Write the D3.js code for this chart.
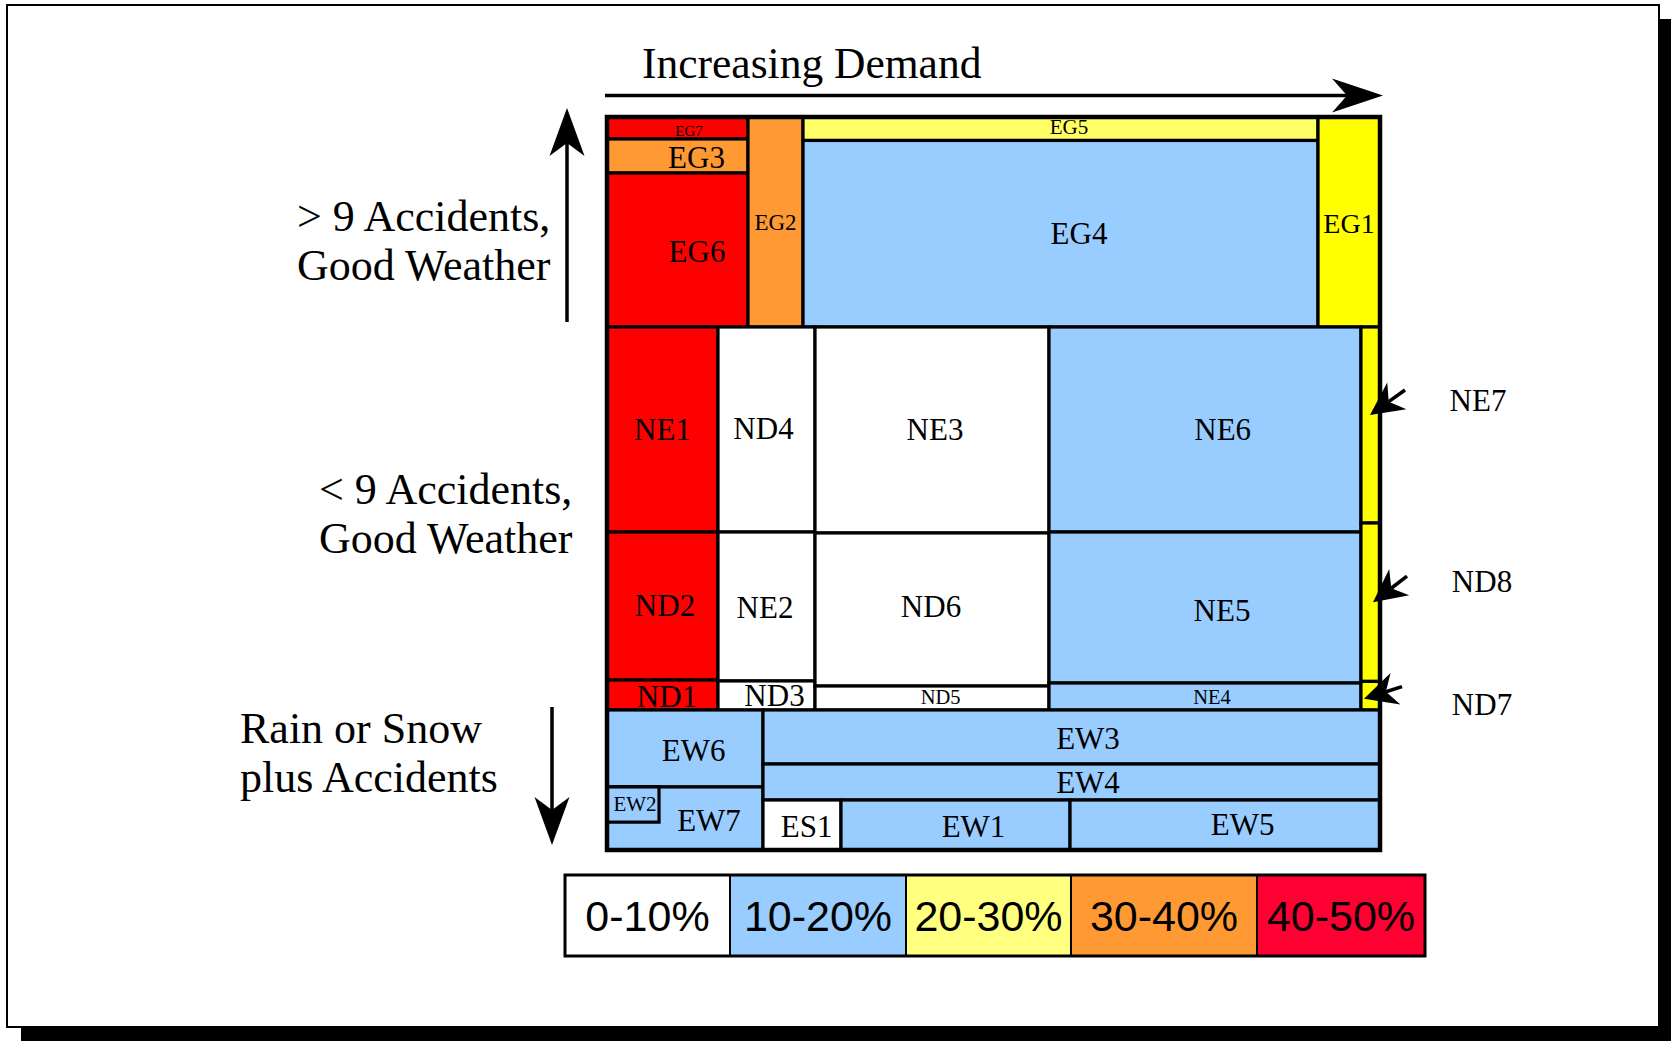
<!DOCTYPE html>
<html>
<head>
<meta charset="utf-8">
<script src="https://cdn.jsdelivr.net/npm/d3@7"></script>
<style>
  html, body { margin: 0; padding: 0; background: #ffffff; }
  svg { display: block; }
</style>
</head>
<body>
<div id="chart"></div>
<script>
// ---- data -------------------------------------------------------------
// Demand share (x, % of total) and condition share (y, % of total) for each cell
const axisTitle = "Increasing Demand";
const bandLabels = [
  ["> 9 Accidents,", "Good Weather"],
  ["< 9 Accidents,", "Good Weather"],
  ["Rain or Snow", "plus Accidents"]
];
const classLabels = ["0-10%", "10-20%", "20-30%", "30-40%", "40-50%"];

const cellIds = [
  "EG7", "EG3", "EG6", "EG2", "EG5", "EG4", "EG1",
  "NE1", "ND2", "ND1", "ND4", "NE2", "ND3", "NE3", "ND6", "ND5",
  "NE6", "NE5", "NE4", "NE7", "ND8", "ND7",
  "EW6", "EW7", "EW2", "EW3", "EW4", "ES1", "EW1", "EW5"
];
// index into classLabels
const cellClass = [
  4, 3, 4, 3, 2, 1, 2,
  4, 4, 4, 0, 0, 0, 0, 0, 0,
  1, 1, 1, 2, 2, 2,
  1, 1, 1, 1, 1, 0, 1, 1
];
const demandFrom = [
  0, 0, 0, 18.24, 25.36, 25.36, 91.98,
  0, 0, 0, 14.36, 14.36, 14.36, 26.91, 26.91, 26.91,
  57.18, 57.18, 57.18, 97.54, 97.54, 97.54,
  0, 0, 0, 20.18, 20.18, 20.18, 30.27, 59.9
];
const demandTo = [
  18.24, 18.24, 18.24, 25.36, 91.98, 91.98, 100,
  14.36, 14.36, 14.36, 26.91, 26.91, 26.91, 57.18, 57.18, 57.18,
  97.54, 97.54, 97.54, 100, 100, 100,
  20.18, 20.18, 6.73, 100, 100, 30.27, 59.9, 100
];
const conditionFrom = [
  0, 3.0, 7.64, 0, 0, 3.2, 0,
  28.65, 56.62, 76.81, 28.65, 56.62, 76.94, 28.65, 56.75, 77.63,
  28.65, 56.62, 77.22, 28.65, 55.39, 77.0,
  80.9, 91.4, 91.4, 80.9, 88.27, 93.18, 93.18, 93.18
];
const conditionTo = [
  3.0, 7.64, 28.65, 28.65, 3.2, 28.65, 28.65,
  56.62, 76.81, 80.9, 56.62, 76.94, 80.9, 56.75, 77.63, 80.9,
  56.62, 77.22, 80.9, 55.39, 77.0, 80.9,
  91.4, 100, 96.2, 88.27, 93.18, 100, 100, 100
];

// ---- styles & layout --------------------------------------------------
const W = 1671, H = 1041;
const serif = "'Liberation Serif', 'Times New Roman', Times, serif";
const sans = "'Liberation Sans', Arial, Helvetica, sans-serif";
const classFill = ["#ffffff", "#99ccff", "#ffff00", "#ff9933", "#ff0000"];
const legendFill = ["#ffffff", "#99ccff", "#ffff80", "#ff9933", "#ff0033"];
const fillOverride = { EG5: "#ffff66" };
const fontOverride = { EG7: 15, EG2: 23, EG5: 21, EG1: 28, ND5: 20.5, NE4: 20.5, EW2: 21 };
// label nudges from the cell centre, px
const labelNudge = {
  EG7: [11.5, 3], EG3: [19, 2], EG6: [19.5, 1], EG5: [8.5, -2], EG4: [18.5, 0], EG1: [0, 1.7],
  ND4: [-3, -1], NE3: [3, 0], ND2: [2.5, -1], NE2: [-1.5, 1], ND6: [-1, -3],
  ND1: [4.5, 1.7], ND3: [8, 0], ND5: [8.7, -1], NE6: [17.7, 0], NE5: [17, 2.5], NE4: [7, 0],
  EW6: [8.7, 2], EW2: [2, -0.7], EW7: [24, 2], EW3: [16.5, 1], EW4: [16.5, 0],
  ES1: [4.7, 1.7], EW1: [18, 1.7], EW5: [17.7, -1]
};
// cells labelled outside the grid with an arrow:
// [tipDx, tipDy, tailDx, tailDy, labelDx, labelDy] from (right edge, cell centre)
const callouts = {
  NE7: [-10, -10, 25, -35, 98, -25],
  ND8: [-7, 0, 27, -26, 102, -21],
  ND7: [-16, 3, 22, -9, 102, 8.5]
};

const svg = d3.select("#chart").append("svg")
  .attr("width", W).attr("height", H);

// page frame with drop shadow
svg.append("rect").attr("x", 21).attr("y", 19).attr("width", W - 21).attr("height", H - 19)
  .attr("fill", "#000");
svg.append("rect").attr("x", 7).attr("y", 5).attr("width", 1652).attr("height", 1022)
  .attr("fill", "#fff").attr("stroke", "#000").attr("stroke-width", 2);

const x = d3.scaleLinear().domain([0, 100]).range([607, 1380]);
const y = d3.scaleLinear().domain([0, 100]).range([117, 850]);

const cells = cellIds.map((id, i) => ({
  id,
  cls: cellClass[i],
  x0: demandFrom[i], x1: demandTo[i],
  y0: conditionFrom[i], y1: conditionTo[i]
}));

// ---- mosaic cells ----------------------------------------------------
const gCells = svg.append("g");
gCells.selectAll("rect").data(cells).join("rect")
  .attr("x", d => x(d.x0))
  .attr("y", d => y(d.y0))
  .attr("width", d => x(d.x1) - x(d.x0))
  .attr("height", d => y(d.y1) - y(d.y0))
  .attr("fill", d => fillOverride[d.id] || classFill[d.cls])
  .attr("stroke", "#000")
  .attr("stroke-width", 3.2);

// outer border of the grid
svg.append("rect")
  .attr("x", x(0)).attr("y", y(0))
  .attr("width", x(100) - x(0)).attr("height", y(100) - y(0))
  .attr("fill", "none").attr("stroke", "#000").attr("stroke-width", 4.5);

// inside labels
const inner = cells.filter(d => !callouts[d.id]);
svg.append("g").selectAll("text").data(inner).join("text")
  .attr("x", d => (x(d.x0) + x(d.x1)) / 2 + (labelNudge[d.id] ? labelNudge[d.id][0] : 0))
  .attr("y", d => (y(d.y0) + y(d.y1)) / 2 + (labelNudge[d.id] ? labelNudge[d.id][1] : 0))
  .attr("text-anchor", "middle")
  .attr("dominant-baseline", "central")
  .attr("font-family", serif)
  .attr("font-size", d => fontOverride[d.id] || 31)
  .attr("fill", "#000")
  .text(d => d.id);

// ---- arrows ----------------------------------------------------------
function arrow(g, x1, y1, x2, y2, headLen, halfW, notch, sw) {
  const dx = x2 - x1, dy = y2 - y1, L = Math.hypot(dx, dy);
  const ux = dx / L, uy = dy / L, px = -uy, py = ux;
  const nx = x2 - ux * notch, ny = y2 - uy * notch;
  g.append("line")
    .attr("x1", x1).attr("y1", y1).attr("x2", nx).attr("y2", ny)
    .attr("stroke", "#000").attr("stroke-width", sw);
  const bx = x2 - ux * headLen, by = y2 - uy * headLen;
  g.append("path")
    .attr("d", `M${x2},${y2}L${bx + px * halfW},${by + py * halfW}L${nx},${ny}L${bx - px * halfW},${by - py * halfW}Z`)
    .attr("fill", "#000");
}

const gAnn = svg.append("g");

// callouts for the narrow right-hand column
cells.filter(d => callouts[d.id]).forEach(d => {
  const c = callouts[d.id];
  const rx = x(d.x1), cy = (y(d.y0) + y(d.y1)) / 2;
  arrow(gAnn, rx + c[2], cy + c[3], rx + c[0], cy + c[1], 33, 16.5, 23, 3.5);
  gAnn.append("text")
    .attr("x", rx + c[4]).attr("y", cy + c[5])
    .attr("text-anchor", "middle")
    .attr("dominant-baseline", "central")
    .attr("font-family", serif).attr("font-size", 31)
    .text(d.id);
});

// demand axis arrow and title
arrow(gAnn, x(0) - 2, y(0) - 21.5, x(100) + 3, y(0) - 21.5, 51, 17, 36, 3.5);
gAnn.append("text")
  .attr("x", x(0) + 35).attr("y", y(0) - 39)
  .attr("font-family", serif).attr("font-size", 43.5)
  .text(axisTitle);

// condition arrows
arrow(gAnn, x(0) - 40, y(28.65) - 5, x(0) - 40, y(0) - 9, 48, 17.5, 35, 3.5);
arrow(gAnn, x(0) - 55, y(80.9) - 3, x(0) - 55, y(100) - 5, 48, 17.5, 35, 3.5);

// band labels
const bandPos = [[297, 231], [319, 504], [240, 743]];
bandLabels.forEach((lines, i) => {
  const t = gAnn.append("text")
    .attr("font-family", serif).attr("font-size", 44);
  lines.forEach((s, j) => {
    t.append("tspan")
      .attr("x", bandPos[i][0])
      .attr("y", bandPos[i][1] + j * 48.5)
      .text(s);
  });
});

// ---- legend ----------------------------------------------------------
const legendEdges = [565, 730, 906, 1071, 1257, 1425];
const legY = 875, legH = 81;
const gLeg = svg.append("g");
gLeg.selectAll("rect").data(classLabels).join("rect")
  .attr("x", (d, i) => legendEdges[i])
  .attr("y", legY)
  .attr("width", (d, i) => legendEdges[i + 1] - legendEdges[i])
  .attr("height", legH)
  .attr("fill", (d, i) => legendFill[i])
  .attr("stroke", "#000").attr("stroke-width", 2);
gLeg.append("rect")
  .attr("x", legendEdges[0]).attr("y", legY)
  .attr("width", legendEdges[5] - legendEdges[0]).attr("height", legH)
  .attr("fill", "none").attr("stroke", "#000").attr("stroke-width", 3);
gLeg.selectAll("text").data(classLabels).join("text")
  .attr("x", (d, i) => (legendEdges[i] + legendEdges[i + 1]) / 2)
  .attr("y", legY + legH / 2 + 15)
  .attr("text-anchor", "middle")
  .attr("font-family", sans).attr("font-size", 43)
  .attr("fill", "#000")
  .text(d => d);
</script>
</body>
</html>
